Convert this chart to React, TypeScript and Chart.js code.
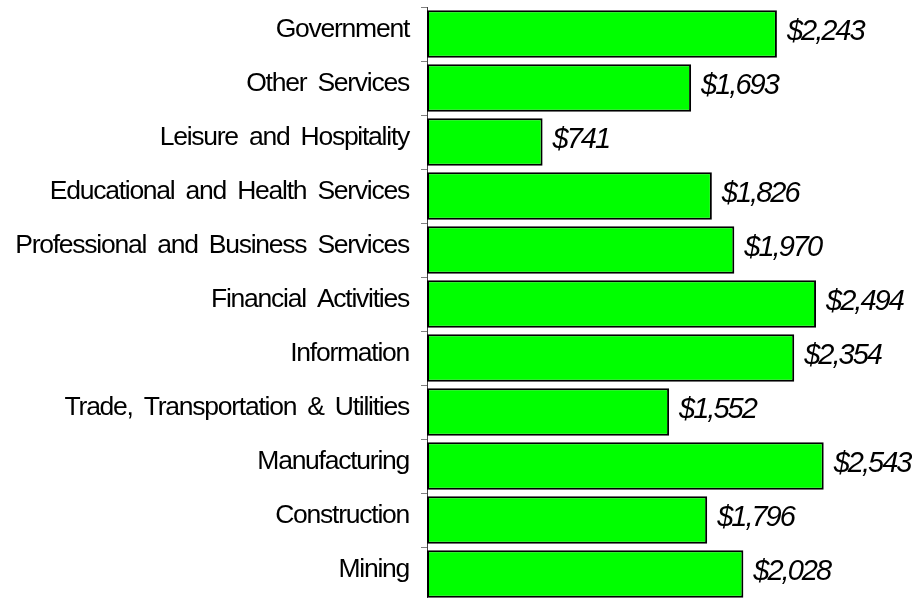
import React, { useEffect, useRef } from "react";
import { Chart, registerables } from "chart.js";

Chart.register(...registerables);

const categories = [
  "Government",
  "Other Services",
  "Leisure and Hospitality",
  "Educational and Health Services",
  "Professional and Business Services",
  "Financial Activities",
  "Information",
  "Trade, Transportation & Utilities",
  "Manufacturing",
  "Construction",
  "Mining",
];

const earnings = [2243, 1693, 741, 1826, 1970, 2494, 2354, 1552, 2543, 1796, 2028];

const fmt = (v: number) => "$" + v.toLocaleString("en-US");

export default function App() {
  const ref = useRef<HTMLCanvasElement | null>(null);

  useEffect(() => {
    if (!ref.current) return;
    const setTickSpacing = (ctx: any) => {
      ctx.letterSpacing = "-1.25px";
      ctx.wordSpacing = "5px";
    };
    const valueLabels = {
      id: "valueLabels",
      beforeDraw(chart: any) {
        setTickSpacing(chart.ctx);
      },
      afterDatasetsDraw(chart: any) {
        const ctx = chart.ctx;
        const meta = chart.getDatasetMeta(0);
        ctx.save();
        ctx.letterSpacing = "-2px";
        ctx.wordSpacing = "0px";
        ctx.font = "italic 29px 'Liberation Sans', Arial, sans-serif";
        ctx.fillStyle = "#000";
        ctx.textAlign = "left";
        ctx.textBaseline = "middle";
        meta.data.forEach((bar: any, i: number) => {
          ctx.fillText(fmt(earnings[i]), bar.x + 10, bar.y - 2);
        });
        ctx.restore();
        setTickSpacing(ctx);
      },
    };

    const chart = new Chart(ref.current, {
      type: "bar",
      data: {
        labels: categories,
        datasets: [
          {
            data: earnings,
            backgroundColor: "#00FF00",
            borderColor: "#000000",
            borderWidth: 2,
            borderSkipped: false,
            barPercentage: 0.88,
            categoryPercentage: 1,
          },
        ],
      },
      options: {
        indexAxis: "y",
        animation: false,
        responsive: false,
        maintainAspectRatio: false,
        layout: { padding: { top: 7, right: 17, left: 0, bottom: 0 } },
        plugins: {
          legend: { display: false },
          tooltip: { enabled: false },
        },
        scales: {
          x: {
            display: false,
            min: 0,
            max: 3000,
          },
          y: {
            afterFit: (scale: any) => {
              scale.width = 427;
              scale.paddingTop = 0;
              scale.paddingBottom = 0;
            },
            grid: {
              offset: true,
              drawOnChartArea: false,
              tickLength: 6,
              color: "#808080",
            },
            border: { display: true, color: "#404040", width: 1 },
            ticks: {
              color: "#000",
              padding: 12,
              labelOffset: -4,
              font: { family: "'Liberation Sans', Arial, sans-serif", size: 26.5 },
            },
          },
        },
      },
      plugins: [valueLabels],
    });
    return () => chart.destroy();
  }, []);

  return (
    <div
      style={{
        position: "fixed",
        left: 0,
        top: 0,
        width: 912,
        height: 598,
        overflow: "hidden",
        background: "#fff",
      }}
    >
      <canvas ref={ref} width={912} height={601} style={{ display: "block" }} />
    </div>
  );
}
